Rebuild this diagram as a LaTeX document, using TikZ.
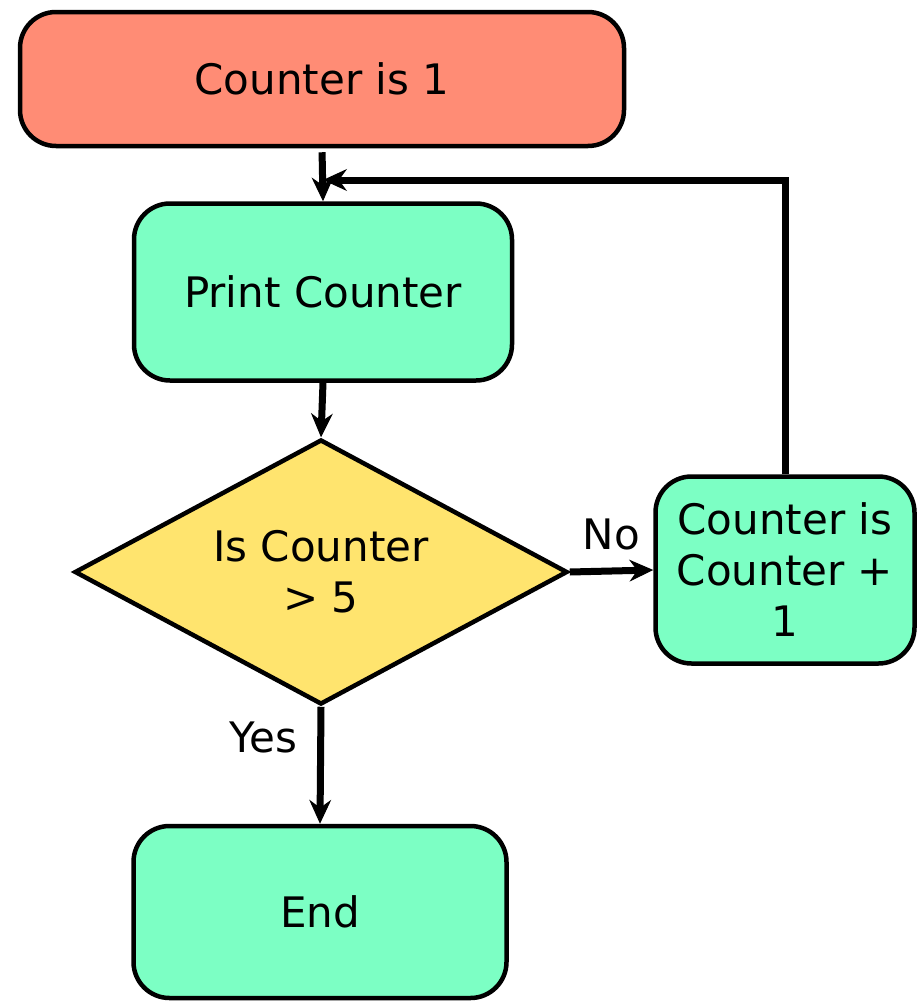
\documentclass[tikz,border=0pt]{standalone}
\usepackage{fontspec}
\setmainfont{DejaVu Sans}
\usetikzlibrary{arrows.meta,shapes.geometric}
\definecolor{startred}{HTML}{FF8C75}
\definecolor{stepgreen}{HTML}{7CFFC4}
\definecolor{askyellow}{HTML}{FFE46E}

\begin{document}
\begin{tikzpicture}[x=1pt,y=-1pt,
		every node/.style={font=\fontsize{42}{51}\selectfont},
		box/.style={draw,line width=4.5pt,rounded corners=36pt,align=center,inner sep=0pt},
		ask/.style={draw,diamond,line width=4.5pt,fill=askyellow,align=center,inner sep=0pt,
			shape aspect=1.86,minimum width=493pt,minimum height=265pt},
		flow/.style={line width=7pt,-{Stealth[length=24pt,width=22pt,inset=8pt,line width=1pt]}}]
		\useasboundingbox (0,0) rectangle (916,1001);
		
		\node[box,fill=startred,minimum width=604pt,minimum height=134pt] (start) at (322,79) {Counter is 1};
		\node[box,fill=stepgreen,minimum width=378pt,minimum height=177pt] (print) at (323,292) {Print Counter};
		\node[ask] (check) at (321,572) {Is Counter\\> 5};
		\node[box,fill=stepgreen,minimum width=259pt,minimum height=187pt] (add) at (785,570) {Counter is\\Counter +\\1};
		\node[box,fill=stepgreen,minimum width=373pt,minimum height=172pt] (stop) at (320,912) {End};
		
		\coordinate (join) at (print.north |- 0,180);
		
		\draw[flow,shorten <=4pt] (start.south) -- (print.north);
		\draw[flow] (add.north) |- (join);
		\draw[flow] (print.south) -- (check.north);
		\draw[flow] (check.east) -- (add.west) node[midway,above=17pt,inner sep=0pt] {No};
		\draw[flow] (check.south) -- (stop.north) node[pos=0.26,left=20pt,inner sep=0pt] {Yes};
	\end{tikzpicture}
\end{document}
